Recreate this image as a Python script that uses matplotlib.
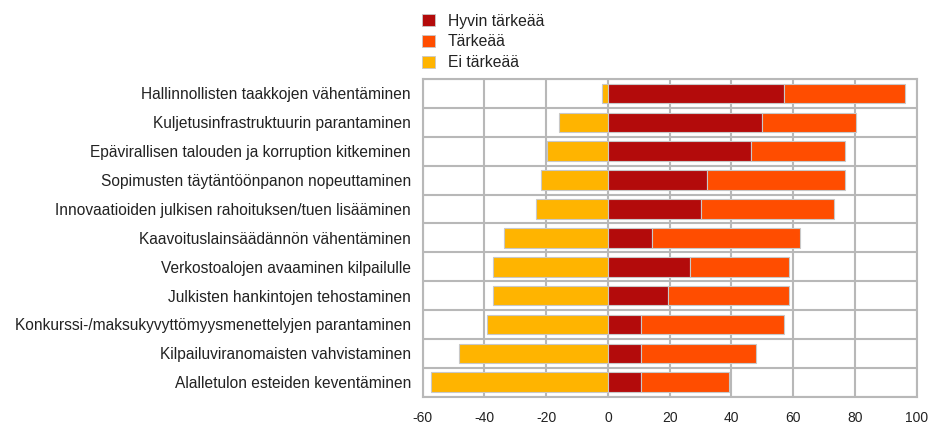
import matplotlib.pyplot as plt
import numpy as np
from matplotlib.patches import Patch

plt.rcParams['font.family'] = ['Liberation Sans', 'DejaVu Sans']

categories = [
    'Hallinnollisten taakkojen vähentäminen',
    'Kuljetusinfrastruktuurin parantaminen',
    'Epävirallisen talouden ja korruption kitkeminen',
    'Sopimusten täytäntöönpanon nopeuttaminen',
    'Innovaatioiden julkisen rahoituksen/tuen lisääminen',
    'Kaavoituslainsäädännön vähentäminen',
    'Verkostoalojen avaaminen kilpailulle',
    'Julkisten hankintojen tehostaminen',
    'Konkurssi-/maksukyvyttömyysmenettelyjen parantaminen',
    'Kilpailuviranomaisten vahvistaminen',
    'Alalletulon esteiden keventäminen',
]
hyvin_tarkeaa = [57.0, 49.9, 46.4, 32.1, 30.2, 14.3, 26.6, 19.5, 10.7, 10.7, 10.7]
tarkeaa = [39.1, 30.4, 30.5, 44.8, 43.0, 47.9, 32.0, 39.1, 46.3, 37.2, 28.5]
ei_tarkeaa = [1.8, 16.0, 19.7, 21.7, 23.2, 33.8, 37.4, 37.4, 39.3, 48.2, 57.3]
series_names = ['Hyvin tärkeää', 'Tärkeää', 'Ei tärkeää']
xticks = [-60, -40, -20, 0, 20, 40, 60, 80, 100]

c_dark = '#b30b0b'
c_orange = '#ff4d00'
c_yellow = '#ffb400'
grid_c = '#b8b8b8'
edge_c = '#c8c8c8'

fig = plt.figure(figsize=(9.44, 4.23), dpi=100)
ax = fig.add_axes([0.4478, 0.0622, 0.5233, 0.751])

y = np.arange(len(categories))
h = 0.68
hv = np.array(hyvin_tarkeaa)
ta = np.array(tarkeaa)
ei = np.array(ei_tarkeaa)

ax.barh(y, -ei, height=h, color=c_yellow, edgecolor=edge_c, linewidth=0.8, zorder=3)
ax.barh(y, hv, height=h, color=c_dark, edgecolor=edge_c, linewidth=0.8, zorder=3)
ax.barh(y, ta, left=hv, height=h, color=c_orange, edgecolor=edge_c, linewidth=0.8, zorder=3)

ax.set_xlim(-60, 100)
ax.set_ylim(len(categories) - 0.5, -0.5)
ax.set_xticks(xticks)
ax.set_xticklabels([str(t) for t in xticks], fontsize=10, color='#222222')
ax.set_yticks(y)
ax.set_yticklabels(categories, fontsize=11.2, color='#222222')
ax.set_yticks(np.arange(len(categories) + 1) - 0.5, minor=True)
ax.tick_params(axis='both', which='both', length=0)
ax.tick_params(axis='y', pad=8.5)
ax.tick_params(axis='x', pad=10)

ax.grid(axis='x', which='major', color=grid_c, linewidth=1.5, zorder=1)
ax.grid(axis='y', which='minor', color=grid_c, linewidth=1.5, zorder=1)
ax.set_axisbelow(True)
for s in ax.spines.values():
    s.set_color(grid_c)
    s.set_linewidth(1.5)

handles = [Patch(facecolor=c, edgecolor=edge_c, linewidth=0.6)
           for c in (c_dark, c_orange, c_yellow)]
leg = fig.legend(handles, series_names, loc='upper left',
                 bbox_to_anchor=(0.447, 0.968), frameon=False, fontsize=11.3,
                 handlelength=0.85, handleheight=0.85, handletextpad=0.8,
                 labelspacing=0.38, borderaxespad=0, borderpad=0)
for t in leg.get_texts():
    t.set_color('#222222')

fig.savefig('out.png', dpi=100)
